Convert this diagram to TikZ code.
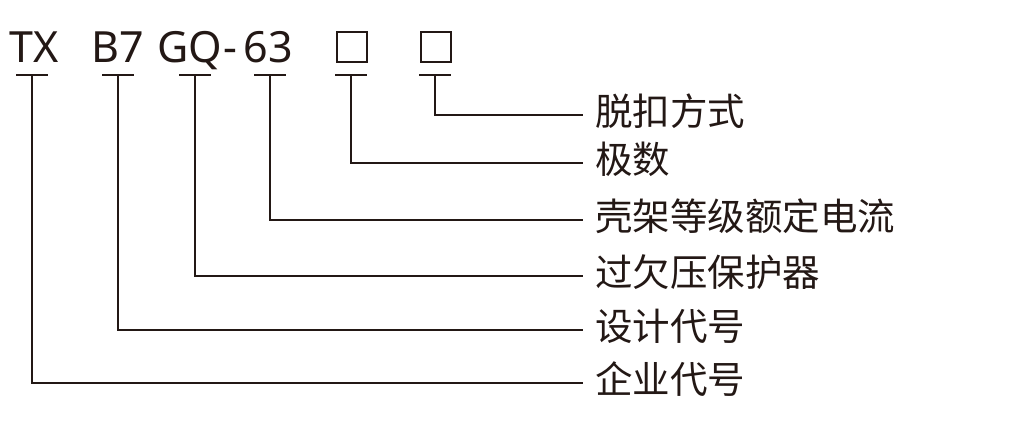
\documentclass[tikz,border=0pt]{standalone}
\usepackage{fontspec}
\setmainfont{Noto Sans}
\newfontfamily\cjk{Noto Sans CJK SC}
\definecolor{ink}{HTML}{231815}
\begin{document}
\begin{tikzpicture}[x=1pt,y=-1pt,
  code/.style={font=\fontsize{43}{50}\selectfont, text=ink, inner sep=0, anchor=base},
  lbl/.style={font=\cjk\fontsize{37.5}{45}\selectfont, text=ink, anchor=west, inner xsep=12pt, inner ysep=0, text height=28.5pt, text depth=7.5pt},
  conn/.style={draw=ink, line width=1.4pt},
  boxc/.style={draw=ink, line width=1.8pt, minimum size=30pt, inner sep=0}]
\useasboundingbox (0,0) rectangle (1024,441);
% codes
\node[code] (tx) at (34,63) {TX};
\node[code] (b7) at (118,63) {B7};
\node[code] (gq) at (190,63) {GQ};
\node[code] (dash) at (230,63) {-};
\node[code] (n63) at (268,63) {63};
\node[boxc] (bx1) at (352,47) {};
\node[boxc] (bx2) at (436,47) {};
% bar coordinates
\coordinate (c1) at (32,75);
\coordinate (c2) at (118,75);
\coordinate (c3) at (195,75);
\coordinate (c4) at (270,75);
\coordinate (c5) at (351,75);
\coordinate (c6) at (435,75);
% labels
\node[lbl] (l1) at (583,115) {脱扣方式};
\node[lbl] (l2) at (583,163) {极数};
\node[lbl] (l3) at (583,220) {壳架等级额定电流};
\node[lbl] (l4) at (583,276) {过欠压保护器};
\node[lbl] (l5) at (583,330) {设计代号};
\node[lbl] (l6) at (583,383) {企业代号};
% bars
\foreach \c in {c1,c2,c3,c4,c5,c6}
  \draw[conn] ([xshift=-16pt]\c) -- ([xshift=16pt]\c);
% connectors
\draw[conn] (c6) |- (l1.west);
\draw[conn] (c5) |- (l2.west);
\draw[conn] (c4) |- (l3.west);
\draw[conn] (c3) |- (l4.west);
\draw[conn] (c2) |- (l5.west);
\draw[conn] (c1) |- (l6.west);
\end{tikzpicture}
\end{document}
